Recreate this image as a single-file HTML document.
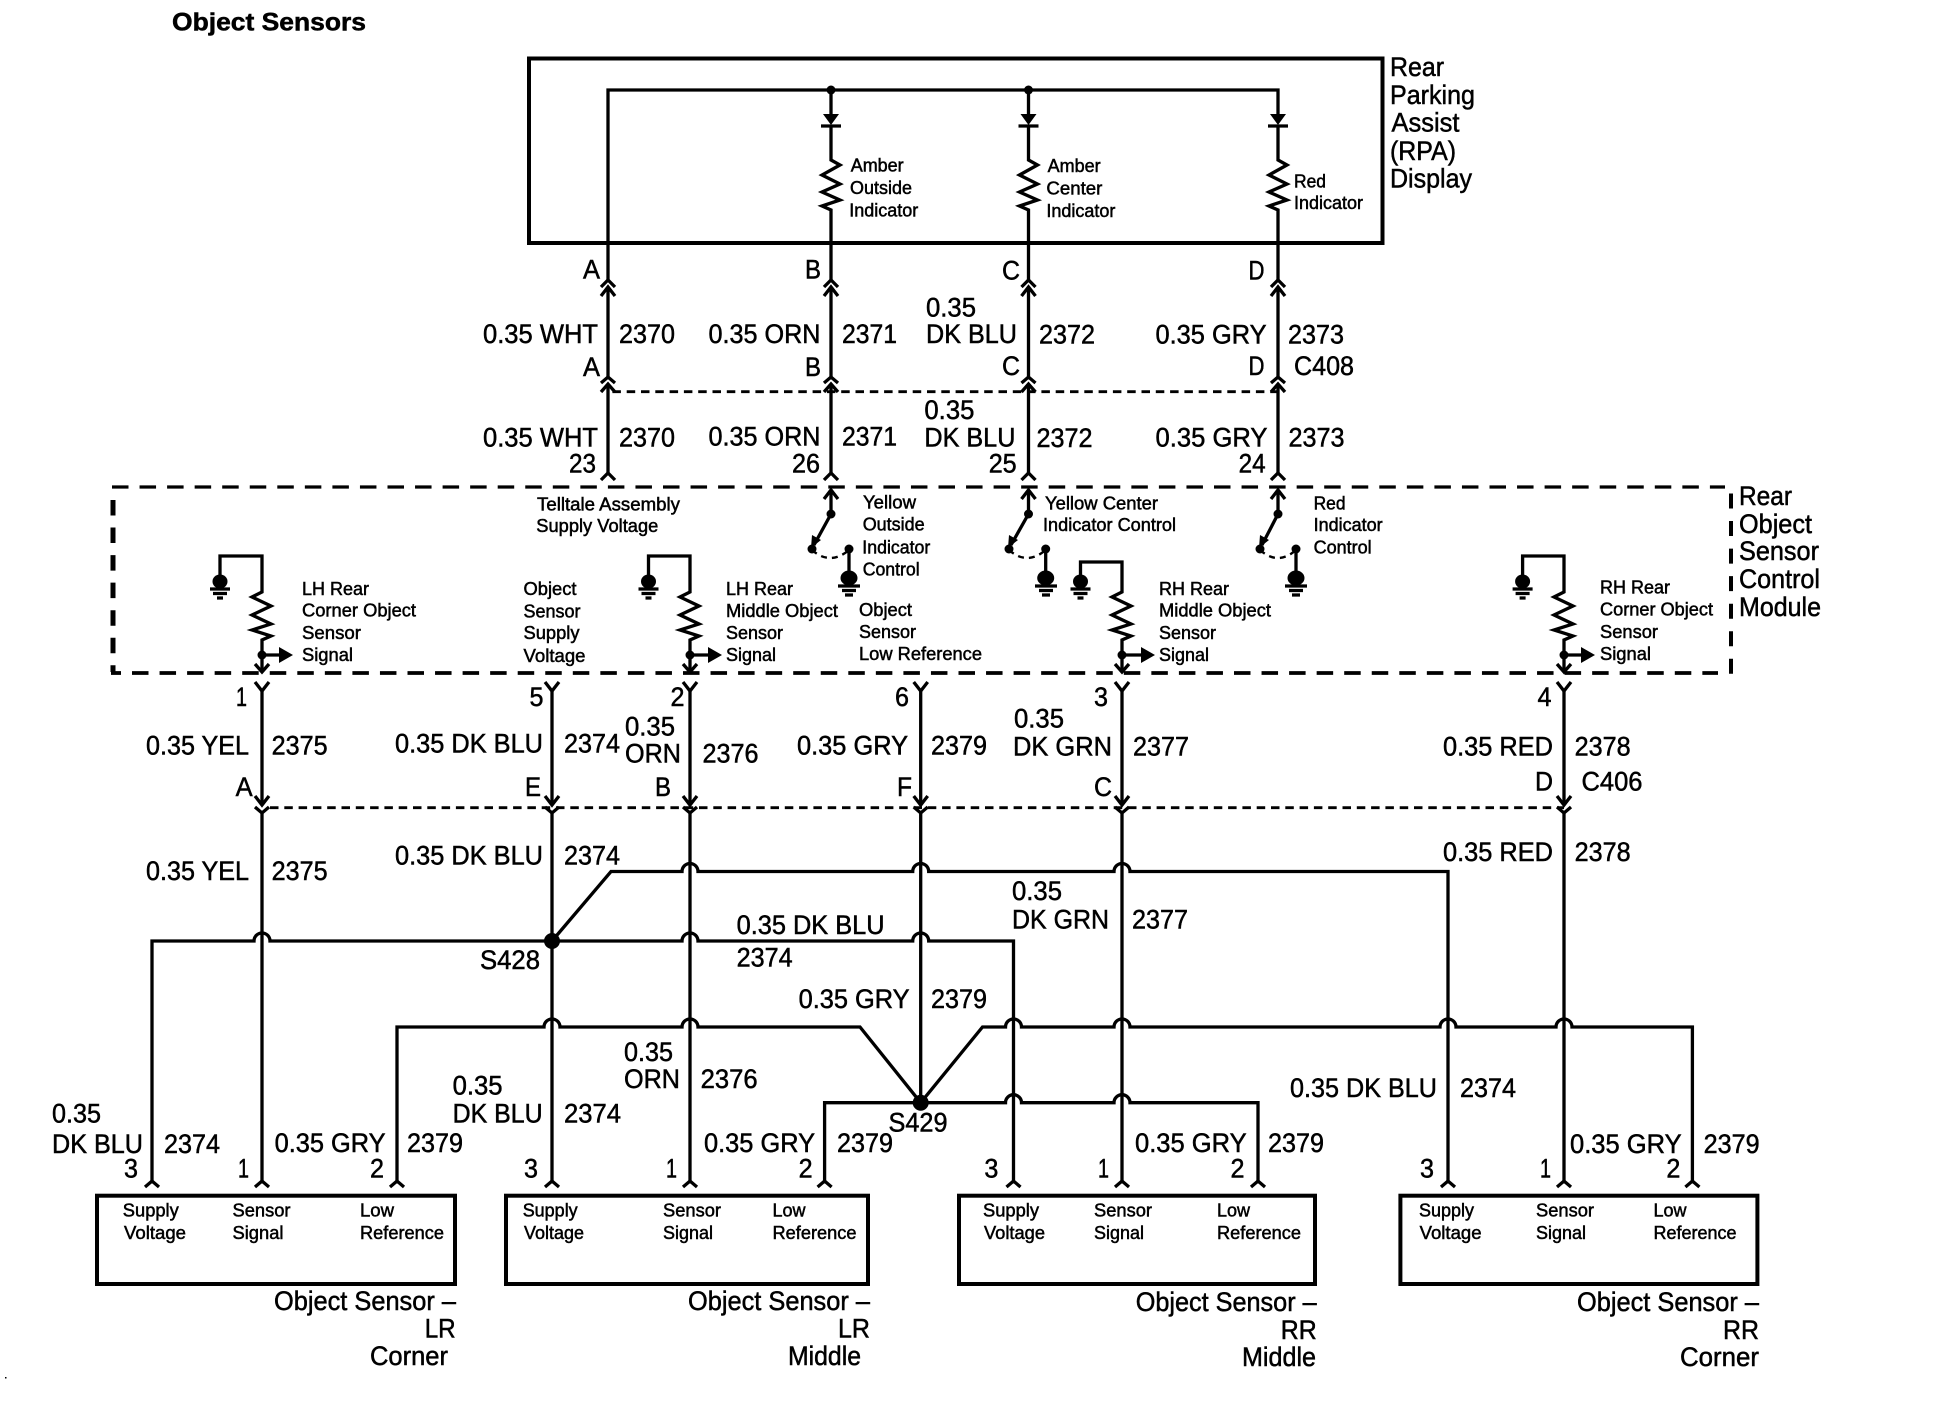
<!DOCTYPE html>
<html><head><meta charset="utf-8"><title>Object Sensors</title>
<style>
html,body{margin:0;padding:0;background:#fff}
svg{display:block}
text{font-family:"Liberation Sans",Arial,sans-serif;fill:#000;stroke:#000;stroke-width:.5}
.b text{font-size:26.5px}
.s text{font-size:18.5px}
</style></head><body>
<svg xmlns="http://www.w3.org/2000/svg" width="1944" height="1408" viewBox="0 0 1944 1408">
<rect width="1944" height="1408" fill="#fff"/>
<g fill="none" stroke="#000" stroke-width="4">
<rect x="529" y="58.5" width="853.5" height="184.5"/>
<rect x="97" y="1195.7" width="358" height="88.3"/>
<rect x="506" y="1195.7" width="362" height="88.3"/>
<rect x="959" y="1195.7" width="356" height="88.3"/>
<rect x="1400.4" y="1195.7" width="357" height="88.3"/>
</g>
<g fill="none" stroke="#000">
<path d="M112 487H1725" stroke-width="3.2" stroke-dasharray="16.5 11.05"/>
<path d="M132 673H1718" stroke-width="3.8" stroke-dasharray="16.5 11.05"/>
<path d="M111 673H121" stroke-width="3.8"/>
<path d="M113 500V672" stroke-width="5" stroke-dasharray="15.5 12.05"/>
<path d="M1731 493.5V675" stroke-width="4" stroke-dasharray="15 12.55"/>
</g>
<g fill="none" stroke="#000" stroke-width="3.3">
<path d="M608 280V90H1278V115M831 90V115M1028.5 90V115"/>
<path d="M831 126V160L840 165 822 175 840 184 822 192 840 200 822 206 831 210V280"/>
<path d="M1028.5 126V160L1037.5 165 1019.5 175 1037.5 184 1019.5 192 1037.5 200 1019.5 206 1028.5 210V280"/>
<path d="M1278 126V160L1287 165 1269 175 1287 184 1269 192 1287 200 1269 206 1278 210V280"/>
<path d="M821 126H841M1018.5 126H1038.5M1268 126H1288"/>
<path d="M608 287V377M831 287V377M1028.5 287V377M1278 287V377"/>
<path d="M608 384V473M831 384V473M1028.5 384V473M1278 384V473"/>
<path d="M601 287L608 280 615 287M824 287L831 280 838 287M1021.5 287L1028.5 280 1035.5 287M1271 287L1278 280 1285 287"/>
<path d="M601 296L608 287 615 296M824 296L831 287 838 296M1021.5 296L1028.5 287 1035.5 296M1271 296L1278 287 1285 296"/>
<path d="M601 383L608 377 615 383M824 383L831 377 838 383M1021.5 383L1028.5 377 1035.5 383M1271 383L1278 377 1285 383"/>
<path d="M601 392L608 384 615 392M824 392L831 384 838 392M1021.5 392L1028.5 384 1035.5 392M1271 392L1278 384 1285 392"/>
<path d="M601 480L608 473 615 480M824 480L831 473 838 480M1021.5 480L1028.5 473 1035.5 480M1271 480L1278 473 1285 480"/>
<path d="M824 499L831 490 838 499M1021.5 499L1028.5 490 1035.5 499M1271 499L1278 490 1285 499"/>
<path d="M831 490V514L814 545M1028.5 490V514L1011 545M1278 490V514L1262 545"/>
<path d="M849 549V575M1045.7 549V575M1296 549V575"/>
<path d="M220 575V556H262V592L252 597 271 606 252 615 271 624 252 630 271 636 262 640V672"/>
<path d="M648.5 575V556H690V592L680 597 699 606 680 615 699 624 680 630 699 636 690 640V672"/>
<path d="M1080.5 575V562H1122V592L1112 597 1131 606 1112 615 1131 624 1112 630 1131 636 1122 640V672"/>
<path d="M1522.6 575V556H1564V592L1554 597 1573 606 1554 615 1573 624 1554 630 1573 636 1564 640V672"/>
<path d="M262 655H282M690 655H710M1122 655H1143M1564 655H1583"/>
<path d="M255 664L262 672 269 664M683 664L690 672 697 664M1115 664L1122 672 1129 664M1557 664L1564 672 1571 664"/>
<path d="M255 682L262 691 269 682M545 682L552 691 559 682M683 682L690 691 697 682M913.7 682L920.7 691 927.7 682M1115 682L1122 691 1129 682M1557 682L1564 691 1571 682"/>
<path d="M262 691V805M552 691V805M690 691V805M920.7 691V805M1122 691V805M1564 691V805"/>
<path d="M255 796L262 805 269 796M545 796L552 805 559 796M683 796L690 805 697 796M913.7 796L920.7 805 927.7 796M1115 796L1122 805 1129 796M1557 796L1564 805 1571 796"/>
<path d="M255 807L262 813 269 807M545 807L552 813 559 807M683 807L690 813 697 807M913.7 807L920.7 813 927.7 807M1115 807L1122 813 1129 807M1557 807L1564 813 1571 807"/>
<path d="M262 813V1181M552 813V1181M690 813V1181M920.7 813V1102.7M1122 813V1181M1564 813V1181"/>
<path d="M152 1181V941H254A8 8 0 0 1 270 941H682A8 8 0 0 1 698 941H912.7A8 8 0 0 1 928.7 941H1013.5V1181"/>
<path d="M552 941L611 871.5H682A8 8 0 0 1 698 871.5H912.7A8 8 0 0 1 928.7 871.5H1114A8 8 0 0 1 1130 871.5H1448V1181"/>
<path d="M397 1181V1027H544A8 8 0 0 1 560 1027H682A8 8 0 0 1 698 1027H860L920.7 1102.7"/>
<path d="M920.7 1102.7L982.5 1027H1005.5A8 8 0 0 1 1021.5 1027H1114A8 8 0 0 1 1130 1027H1440A8 8 0 0 1 1456 1027H1556A8 8 0 0 1 1572 1027H1692.4V1181"/>
<path d="M824.6 1181V1102.7H1005.5A8 8 0 0 1 1021.5 1102.7H1114A8 8 0 0 1 1130 1102.7H1258V1181"/>
<path d="M145 1187L152 1181 159 1187M255 1187L262 1181 269 1187M390 1187L397 1181 404 1187M545 1187L552 1181 559 1187M683 1187L690 1181 697 1187M817.6 1187L824.6 1181 831.6 1187M1006.5 1187L1013.5 1181 1020.5 1187M1115 1187L1122 1181 1129 1187M1251 1187L1258 1181 1265 1187M1441 1187L1448 1181 1455 1187M1557 1187L1564 1181 1571 1187M1685.4 1187L1692.4 1181 1699.4 1187"/>
<path d="M838 586H860M842 590.500H856M845 595H853M1035 586H1057M1039 590.500H1053M1042 595H1050M1285 586H1307M1289 590.500H1303M1292 595H1300"/>
<path d="M210 589H230M213 593.500H227M217 598H223M638.500 589H658.500M641.500 593.500H655.500M645.500 598H651.500M1070.500 589H1090.500M1073.500 593.500H1087.500M1077.500 598H1083.500M1512.600 589H1532.600M1515.600 593.500H1529.600M1519.600 598H1525.600"/>
</g>
<g fill="none" stroke="#000" stroke-width="2.4" stroke-dasharray="6 5">
<path d="M812 550Q830 566 849 550M1009 550Q1027 566 1045.700 550M1260 550Q1278 566 1296 550"/>
</g>
<g fill="none" stroke="#000" stroke-width="2.8" stroke-dasharray="8.5 5.8">
<path d="M612.400 391.700H1278"/>
<path d="M270 807.700H1564"/>
</g>
<g fill="#000" stroke="none">
<circle cx="831" cy="90" r="4.500"/><circle cx="1028.500" cy="90" r="4.500"/>
<path d="M823 114H839L831 125ZM1020.500 114H1036.500L1028.500 125ZM1270 114H1286L1278 125Z"/>
<circle cx="831" cy="514" r="4.500"/><circle cx="1028.500" cy="514" r="4.500"/><circle cx="1278" cy="514" r="4.500"/>
<circle cx="812" cy="549" r="4.500"/><circle cx="849" cy="549" r="4.500"/>
<circle cx="1009" cy="549" r="4.500"/><circle cx="1045.700" cy="549" r="4.500"/>
<circle cx="1260" cy="549" r="4.500"/><circle cx="1296" cy="549" r="4.500"/>
<path d="M811 548L812 535 821 540ZM1008 548L1009 535 1018 540ZM1259 548L1260 535 1269 540Z"/>
<ellipse cx="849" cy="578" rx="8.500" ry="7.500"/><ellipse cx="1045.700" cy="578" rx="8.500" ry="7.500"/><ellipse cx="1296" cy="578" rx="8.500" ry="7.500"/>
<ellipse cx="220" cy="581.500" rx="7.500" ry="7"/><ellipse cx="648.500" cy="581.500" rx="7.500" ry="7"/><ellipse cx="1080.500" cy="581.500" rx="7.500" ry="7"/><ellipse cx="1522.600" cy="581.500" rx="7.500" ry="7"/>
<circle cx="262" cy="655" r="4.500"/><circle cx="690" cy="655" r="4.500"/><circle cx="1122" cy="655" r="4.500"/><circle cx="1564" cy="655" r="4.500"/>
<path d="M279 647V663L293 655ZM708 647V663L722 655ZM1141 647V663L1155 655ZM1581 647V663L1595 655Z"/>
<circle cx="552" cy="941" r="8"/><circle cx="920.700" cy="1102.700" r="8"/>
<rect x="5" y="1377" width="1.500" height="1.500"/>
</g>
<text x="172" y="30.500" font-size="25" font-weight="bold" textLength="194" lengthAdjust="spacingAndGlyphs">Object Sensors</text>
<g class="b">
<text x="1390" y="76" textLength="54" lengthAdjust="spacingAndGlyphs">Rear</text>
<text x="1390" y="104" textLength="85" lengthAdjust="spacingAndGlyphs">Parking</text>
<text x="1391.500" y="131.500" textLength="68" lengthAdjust="spacingAndGlyphs">Assist</text>
<text x="1390" y="160" textLength="66" lengthAdjust="spacingAndGlyphs">(RPA)</text>
<text x="1390" y="187.700" textLength="82" lengthAdjust="spacingAndGlyphs">Display</text>
<text x="1739" y="505" textLength="53" lengthAdjust="spacingAndGlyphs">Rear</text>
<text x="1739" y="533" textLength="73" lengthAdjust="spacingAndGlyphs">Object</text>
<text x="1739" y="560" textLength="80" lengthAdjust="spacingAndGlyphs">Sensor</text>
<text x="1739" y="588" textLength="81" lengthAdjust="spacingAndGlyphs">Control</text>
<text x="1739" y="616" textLength="82" lengthAdjust="spacingAndGlyphs">Module</text>
<text x="583" y="278.400" textLength="17" lengthAdjust="spacingAndGlyphs">A</text>
<text x="805" y="278.400" textLength="16" lengthAdjust="spacingAndGlyphs">B</text>
<text x="1002" y="279.300" textLength="18" lengthAdjust="spacingAndGlyphs">C</text>
<text x="1248.500" y="279.300" textLength="16" lengthAdjust="spacingAndGlyphs">D</text>
<text x="483" y="343" textLength="115" lengthAdjust="spacingAndGlyphs">0.35 WHT</text>
<text x="619" y="343" textLength="56" lengthAdjust="spacingAndGlyphs">2370</text>
<text x="708.500" y="343" textLength="112" lengthAdjust="spacingAndGlyphs">0.35 ORN</text>
<text x="842" y="343" textLength="55" lengthAdjust="spacingAndGlyphs">2371</text>
<text x="926" y="316.500" textLength="50" lengthAdjust="spacingAndGlyphs">0.35</text>
<text x="926" y="343" textLength="91" lengthAdjust="spacingAndGlyphs">DK BLU</text>
<text x="1039" y="343.500" textLength="56" lengthAdjust="spacingAndGlyphs">2372</text>
<text x="1155.500" y="343.500" textLength="111" lengthAdjust="spacingAndGlyphs">0.35 GRY</text>
<text x="1288" y="343.500" textLength="56" lengthAdjust="spacingAndGlyphs">2373</text>
<text x="583" y="376" textLength="17" lengthAdjust="spacingAndGlyphs">A</text>
<text x="805" y="376" textLength="16" lengthAdjust="spacingAndGlyphs">B</text>
<text x="1002" y="375" textLength="18" lengthAdjust="spacingAndGlyphs">C</text>
<text x="1248.500" y="375" textLength="16" lengthAdjust="spacingAndGlyphs">D</text>
<text x="1294" y="375" textLength="60" lengthAdjust="spacingAndGlyphs">C408</text>
<text x="483" y="446.500" textLength="115" lengthAdjust="spacingAndGlyphs">0.35 WHT</text>
<text x="619" y="446.500" textLength="56" lengthAdjust="spacingAndGlyphs">2370</text>
<text x="708.500" y="445.500" textLength="112" lengthAdjust="spacingAndGlyphs">0.35 ORN</text>
<text x="842" y="445.500" textLength="55" lengthAdjust="spacingAndGlyphs">2371</text>
<text x="924.400" y="419" textLength="50" lengthAdjust="spacingAndGlyphs">0.35</text>
<text x="924.400" y="446.700" textLength="91" lengthAdjust="spacingAndGlyphs">DK BLU</text>
<text x="1036.500" y="447" textLength="56" lengthAdjust="spacingAndGlyphs">2372</text>
<text x="1155.500" y="446.500" textLength="112" lengthAdjust="spacingAndGlyphs">0.35 GRY</text>
<text x="1288.500" y="446.500" textLength="56" lengthAdjust="spacingAndGlyphs">2373</text>
<text x="569" y="472.500" textLength="27" lengthAdjust="spacingAndGlyphs">23</text>
<text x="792" y="472.500" textLength="28" lengthAdjust="spacingAndGlyphs">26</text>
<text x="988.700" y="472.500" textLength="28" lengthAdjust="spacingAndGlyphs">25</text>
<text x="1238.600" y="472.500" textLength="27" lengthAdjust="spacingAndGlyphs">24</text>
<text x="236" y="706" textLength="11" lengthAdjust="spacingAndGlyphs">1</text>
<text x="529.500" y="706" textLength="14" lengthAdjust="spacingAndGlyphs">5</text>
<text x="670.500" y="706" textLength="14" lengthAdjust="spacingAndGlyphs">2</text>
<text x="895" y="706" textLength="14" lengthAdjust="spacingAndGlyphs">6</text>
<text x="1094" y="706" textLength="14" lengthAdjust="spacingAndGlyphs">3</text>
<text x="1537.500" y="706" textLength="14" lengthAdjust="spacingAndGlyphs">4</text>
<text x="146" y="754.300" textLength="103" lengthAdjust="spacingAndGlyphs">0.35 YEL</text>
<text x="271.600" y="754.300" textLength="56" lengthAdjust="spacingAndGlyphs">2375</text>
<text x="395" y="752.500" textLength="148" lengthAdjust="spacingAndGlyphs">0.35 DK BLU</text>
<text x="564" y="752.500" textLength="56" lengthAdjust="spacingAndGlyphs">2374</text>
<text x="625" y="735.400" textLength="50" lengthAdjust="spacingAndGlyphs">0.35</text>
<text x="625" y="762.400" textLength="56" lengthAdjust="spacingAndGlyphs">ORN</text>
<text x="702.500" y="762.400" textLength="56" lengthAdjust="spacingAndGlyphs">2376</text>
<text x="797" y="754.300" textLength="111" lengthAdjust="spacingAndGlyphs">0.35 GRY</text>
<text x="931" y="754.300" textLength="56" lengthAdjust="spacingAndGlyphs">2379</text>
<text x="1014" y="727.300" textLength="50" lengthAdjust="spacingAndGlyphs">0.35</text>
<text x="1013" y="755.600" textLength="99" lengthAdjust="spacingAndGlyphs">DK GRN</text>
<text x="1133" y="755.600" textLength="56" lengthAdjust="spacingAndGlyphs">2377</text>
<text x="1443" y="755.600" textLength="110" lengthAdjust="spacingAndGlyphs">0.35 RED</text>
<text x="1574.600" y="755.600" textLength="56" lengthAdjust="spacingAndGlyphs">2378</text>
<text x="235.600" y="796" textLength="17" lengthAdjust="spacingAndGlyphs">A</text>
<text x="525" y="796" textLength="16" lengthAdjust="spacingAndGlyphs">E</text>
<text x="655" y="796" textLength="16" lengthAdjust="spacingAndGlyphs">B</text>
<text x="897" y="796" textLength="15" lengthAdjust="spacingAndGlyphs">F</text>
<text x="1094" y="796" textLength="18" lengthAdjust="spacingAndGlyphs">C</text>
<text x="1535" y="790.700" textLength="18" lengthAdjust="spacingAndGlyphs">D</text>
<text x="1581.500" y="790.700" textLength="61" lengthAdjust="spacingAndGlyphs">C406</text>
<text x="146" y="880" textLength="103" lengthAdjust="spacingAndGlyphs">0.35 YEL</text>
<text x="271.600" y="880" textLength="56" lengthAdjust="spacingAndGlyphs">2375</text>
<text x="395" y="864.300" textLength="148" lengthAdjust="spacingAndGlyphs">0.35 DK BLU</text>
<text x="564" y="864.300" textLength="56" lengthAdjust="spacingAndGlyphs">2374</text>
<text x="1443" y="861" textLength="110" lengthAdjust="spacingAndGlyphs">0.35 RED</text>
<text x="1574.600" y="861" textLength="56" lengthAdjust="spacingAndGlyphs">2378</text>
<text x="736.600" y="934" textLength="148" lengthAdjust="spacingAndGlyphs">0.35 DK BLU</text>
<text x="736.600" y="966.700" textLength="56" lengthAdjust="spacingAndGlyphs">2374</text>
<text x="1012" y="900" textLength="50" lengthAdjust="spacingAndGlyphs">0.35</text>
<text x="1012" y="928.500" textLength="97" lengthAdjust="spacingAndGlyphs">DK GRN</text>
<text x="1132" y="928.500" textLength="56" lengthAdjust="spacingAndGlyphs">2377</text>
<text x="480" y="969" textLength="60" lengthAdjust="spacingAndGlyphs">S428</text>
<text x="798.600" y="1008" textLength="111" lengthAdjust="spacingAndGlyphs">0.35 GRY</text>
<text x="931" y="1008" textLength="56" lengthAdjust="spacingAndGlyphs">2379</text>
<text x="624" y="1061" textLength="49" lengthAdjust="spacingAndGlyphs">0.35</text>
<text x="624" y="1088" textLength="56" lengthAdjust="spacingAndGlyphs">ORN</text>
<text x="700.600" y="1088" textLength="57" lengthAdjust="spacingAndGlyphs">2376</text>
<text x="452.600" y="1094.600" textLength="50" lengthAdjust="spacingAndGlyphs">0.35</text>
<text x="452.600" y="1122.500" textLength="90" lengthAdjust="spacingAndGlyphs">DK BLU</text>
<text x="564" y="1122.500" textLength="57" lengthAdjust="spacingAndGlyphs">2374</text>
<text x="52" y="1122.500" textLength="49" lengthAdjust="spacingAndGlyphs">0.35</text>
<text x="52" y="1153" textLength="91" lengthAdjust="spacingAndGlyphs">DK BLU</text>
<text x="164" y="1153" textLength="56" lengthAdjust="spacingAndGlyphs">2374</text>
<text x="274.600" y="1152" textLength="111" lengthAdjust="spacingAndGlyphs">0.35 GRY</text>
<text x="407" y="1152" textLength="56" lengthAdjust="spacingAndGlyphs">2379</text>
<text x="888.500" y="1131.500" textLength="59" lengthAdjust="spacingAndGlyphs">S429</text>
<text x="704" y="1152" textLength="111" lengthAdjust="spacingAndGlyphs">0.35 GRY</text>
<text x="837" y="1152" textLength="56" lengthAdjust="spacingAndGlyphs">2379</text>
<text x="1135" y="1152" textLength="111.600" lengthAdjust="spacingAndGlyphs">0.35 GRY</text>
<text x="1268" y="1152" textLength="56" lengthAdjust="spacingAndGlyphs">2379</text>
<text x="1290" y="1097" textLength="147" lengthAdjust="spacingAndGlyphs">0.35 DK BLU</text>
<text x="1460" y="1097" textLength="56" lengthAdjust="spacingAndGlyphs">2374</text>
<text x="1570" y="1153" textLength="111.600" lengthAdjust="spacingAndGlyphs">0.35 GRY</text>
<text x="1703.600" y="1153" textLength="56" lengthAdjust="spacingAndGlyphs">2379</text>
<text x="124" y="1177.700" textLength="14" lengthAdjust="spacingAndGlyphs">3</text>
<text x="238" y="1177.700" textLength="11" lengthAdjust="spacingAndGlyphs">1</text>
<text x="370" y="1177.700" textLength="14" lengthAdjust="spacingAndGlyphs">2</text>
<text x="524" y="1177.700" textLength="14" lengthAdjust="spacingAndGlyphs">3</text>
<text x="666" y="1177.700" textLength="11" lengthAdjust="spacingAndGlyphs">1</text>
<text x="798.600" y="1177.700" textLength="14" lengthAdjust="spacingAndGlyphs">2</text>
<text x="984.400" y="1177.700" textLength="14" lengthAdjust="spacingAndGlyphs">3</text>
<text x="1098" y="1177.700" textLength="11" lengthAdjust="spacingAndGlyphs">1</text>
<text x="1230.500" y="1177.700" textLength="14" lengthAdjust="spacingAndGlyphs">2</text>
<text x="1420" y="1177.700" textLength="14" lengthAdjust="spacingAndGlyphs">3</text>
<text x="1540" y="1177.700" textLength="11" lengthAdjust="spacingAndGlyphs">1</text>
<text x="1666.400" y="1177.700" textLength="14" lengthAdjust="spacingAndGlyphs">2</text>
<text x="274" y="1310" textLength="182" lengthAdjust="spacingAndGlyphs">Object Sensor –</text>
<text x="424.700" y="1337.500" textLength="31" lengthAdjust="spacingAndGlyphs">LR</text>
<text x="370" y="1365" textLength="78" lengthAdjust="spacingAndGlyphs">Corner</text>
<text x="688" y="1310" textLength="182" lengthAdjust="spacingAndGlyphs">Object Sensor –</text>
<text x="838" y="1337.500" textLength="32" lengthAdjust="spacingAndGlyphs">LR</text>
<text x="788" y="1365" textLength="73" lengthAdjust="spacingAndGlyphs">Middle</text>
<text x="1135.700" y="1311" textLength="181" lengthAdjust="spacingAndGlyphs">Object Sensor –</text>
<text x="1280.800" y="1339" textLength="36" lengthAdjust="spacingAndGlyphs">RR</text>
<text x="1242" y="1366" textLength="74" lengthAdjust="spacingAndGlyphs">Middle</text>
<text x="1577" y="1311" textLength="182" lengthAdjust="spacingAndGlyphs">Object Sensor –</text>
<text x="1723" y="1339" textLength="36" lengthAdjust="spacingAndGlyphs">RR</text>
<text x="1680" y="1366" textLength="79" lengthAdjust="spacingAndGlyphs">Corner</text>
</g>
<g class="s">
<text x="850.700" y="171.700" textLength="53" lengthAdjust="spacingAndGlyphs">Amber</text>
<text x="850" y="194" textLength="62" lengthAdjust="spacingAndGlyphs">Outside</text>
<text x="849.300" y="216.700" textLength="69" lengthAdjust="spacingAndGlyphs">Indicator</text>
<text x="1047.600" y="171.900" textLength="53" lengthAdjust="spacingAndGlyphs">Amber</text>
<text x="1046.400" y="194.400" textLength="56" lengthAdjust="spacingAndGlyphs">Center</text>
<text x="1046.400" y="216.900" textLength="69" lengthAdjust="spacingAndGlyphs">Indicator</text>
<text x="1294" y="187.700" textLength="32" lengthAdjust="spacingAndGlyphs">Red</text>
<text x="1294" y="209" textLength="69" lengthAdjust="spacingAndGlyphs">Indicator</text>
<text x="537" y="510.500" textLength="143" lengthAdjust="spacingAndGlyphs">Telltale Assembly</text>
<text x="536.300" y="532" textLength="122" lengthAdjust="spacingAndGlyphs">Supply Voltage</text>
<text x="863" y="508.500" textLength="53" lengthAdjust="spacingAndGlyphs">Yellow</text>
<text x="862.700" y="530.700" textLength="62" lengthAdjust="spacingAndGlyphs">Outside</text>
<text x="862.300" y="553.300" textLength="68" lengthAdjust="spacingAndGlyphs">Indicator</text>
<text x="862.700" y="575.300" textLength="57" lengthAdjust="spacingAndGlyphs">Control</text>
<text x="859" y="616" textLength="53" lengthAdjust="spacingAndGlyphs">Object</text>
<text x="859" y="638" textLength="57" lengthAdjust="spacingAndGlyphs">Sensor</text>
<text x="859" y="660" textLength="123" lengthAdjust="spacingAndGlyphs">Low Reference</text>
<text x="302" y="595" textLength="67" lengthAdjust="spacingAndGlyphs">LH Rear</text>
<text x="302" y="616.500" textLength="114" lengthAdjust="spacingAndGlyphs">Corner Object</text>
<text x="302" y="639" textLength="59" lengthAdjust="spacingAndGlyphs">Sensor</text>
<text x="302" y="661" textLength="51" lengthAdjust="spacingAndGlyphs">Signal</text>
<text x="523.500" y="595" textLength="53" lengthAdjust="spacingAndGlyphs">Object</text>
<text x="523.500" y="617.400" textLength="57" lengthAdjust="spacingAndGlyphs">Sensor</text>
<text x="523.500" y="639" textLength="56" lengthAdjust="spacingAndGlyphs">Supply</text>
<text x="523.500" y="662" textLength="62" lengthAdjust="spacingAndGlyphs">Voltage</text>
<text x="726" y="595" textLength="67" lengthAdjust="spacingAndGlyphs">LH Rear</text>
<text x="726" y="617" textLength="112" lengthAdjust="spacingAndGlyphs">Middle Object</text>
<text x="726" y="639" textLength="57" lengthAdjust="spacingAndGlyphs">Sensor</text>
<text x="726" y="661" textLength="50" lengthAdjust="spacingAndGlyphs">Signal</text>
<text x="1045" y="509.600" textLength="113" lengthAdjust="spacingAndGlyphs">Yellow Center</text>
<text x="1043" y="531" textLength="133" lengthAdjust="spacingAndGlyphs">Indicator Control</text>
<text x="1313.600" y="509.600" textLength="32" lengthAdjust="spacingAndGlyphs">Red</text>
<text x="1313.600" y="531" textLength="69" lengthAdjust="spacingAndGlyphs">Indicator</text>
<text x="1313.600" y="553.600" textLength="58" lengthAdjust="spacingAndGlyphs">Control</text>
<text x="1159" y="595" textLength="70" lengthAdjust="spacingAndGlyphs">RH Rear</text>
<text x="1159" y="616.500" textLength="112" lengthAdjust="spacingAndGlyphs">Middle Object</text>
<text x="1159" y="639" textLength="57" lengthAdjust="spacingAndGlyphs">Sensor</text>
<text x="1159" y="661" textLength="50" lengthAdjust="spacingAndGlyphs">Signal</text>
<text x="1600" y="593.600" textLength="70" lengthAdjust="spacingAndGlyphs">RH Rear</text>
<text x="1600" y="615.600" textLength="113" lengthAdjust="spacingAndGlyphs">Corner Object</text>
<text x="1600" y="638" textLength="58" lengthAdjust="spacingAndGlyphs">Sensor</text>
<text x="1600" y="660" textLength="51" lengthAdjust="spacingAndGlyphs">Signal</text>
<text x="122.800" y="1216.700" textLength="56" lengthAdjust="spacingAndGlyphs">Supply</text>
<text x="124" y="1239" textLength="62" lengthAdjust="spacingAndGlyphs">Voltage</text>
<text x="232.500" y="1216.700" textLength="58" lengthAdjust="spacingAndGlyphs">Sensor</text>
<text x="232.500" y="1239" textLength="51" lengthAdjust="spacingAndGlyphs">Signal</text>
<text x="360" y="1216.700" textLength="34" lengthAdjust="spacingAndGlyphs">Low</text>
<text x="360" y="1239" textLength="84" lengthAdjust="spacingAndGlyphs">Reference</text>
<text x="522.700" y="1216.700" textLength="55" lengthAdjust="spacingAndGlyphs">Supply</text>
<text x="524" y="1239" textLength="60" lengthAdjust="spacingAndGlyphs">Voltage</text>
<text x="663" y="1216.700" textLength="58" lengthAdjust="spacingAndGlyphs">Sensor</text>
<text x="663" y="1239" textLength="50" lengthAdjust="spacingAndGlyphs">Signal</text>
<text x="772.500" y="1216.700" textLength="33" lengthAdjust="spacingAndGlyphs">Low</text>
<text x="772.500" y="1239" textLength="84" lengthAdjust="spacingAndGlyphs">Reference</text>
<text x="983" y="1216.700" textLength="56" lengthAdjust="spacingAndGlyphs">Supply</text>
<text x="984" y="1239" textLength="61" lengthAdjust="spacingAndGlyphs">Voltage</text>
<text x="1094" y="1216.700" textLength="58" lengthAdjust="spacingAndGlyphs">Sensor</text>
<text x="1094" y="1239" textLength="50" lengthAdjust="spacingAndGlyphs">Signal</text>
<text x="1217" y="1216.700" textLength="33" lengthAdjust="spacingAndGlyphs">Low</text>
<text x="1217" y="1239" textLength="84" lengthAdjust="spacingAndGlyphs">Reference</text>
<text x="1419" y="1216.700" textLength="55" lengthAdjust="spacingAndGlyphs">Supply</text>
<text x="1419.600" y="1239" textLength="62" lengthAdjust="spacingAndGlyphs">Voltage</text>
<text x="1536" y="1216.700" textLength="58" lengthAdjust="spacingAndGlyphs">Sensor</text>
<text x="1536" y="1239" textLength="50" lengthAdjust="spacingAndGlyphs">Signal</text>
<text x="1653.500" y="1216.700" textLength="33" lengthAdjust="spacingAndGlyphs">Low</text>
<text x="1653.500" y="1239" textLength="83" lengthAdjust="spacingAndGlyphs">Reference</text>
</g>
</svg>
</body></html>
